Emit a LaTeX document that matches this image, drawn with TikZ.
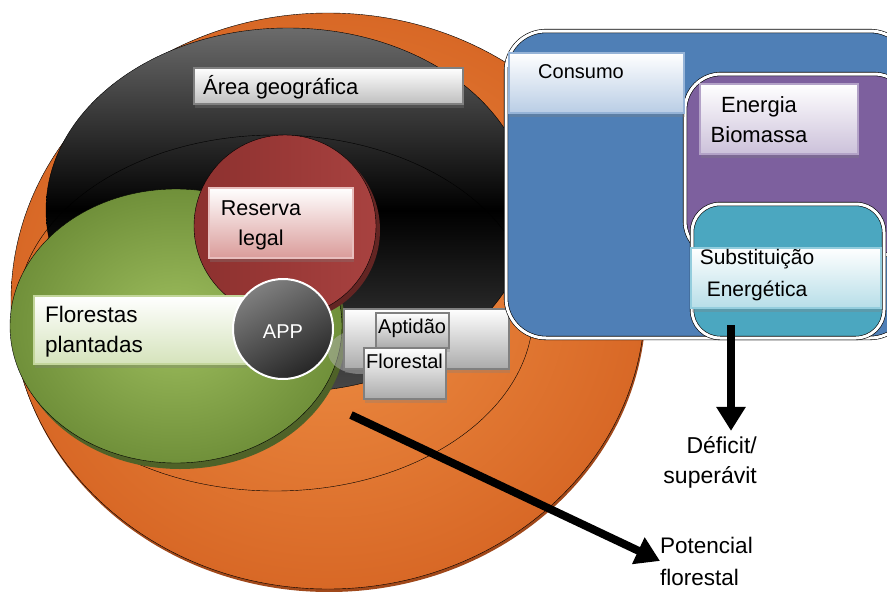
\documentclass[tikz,border=0pt]{standalone}
\usepackage{fontspec}
\setmainfont{Liberation Sans}
\usetikzlibrary{positioning,arrows.meta,shadows}

\definecolor{orangeD}{RGB}{216,104,38}
\definecolor{orangeL}{RGB}{238,142,68}
\definecolor{orangeS}{RGB}{160,72,26}
\definecolor{greenD}{RGB}{112,144,58}
\definecolor{greenL}{RGB}{158,190,94}
\definecolor{greenS}{RGB}{79,98,40}
\definecolor{redD}{RGB}{140,48,46}
\definecolor{redL}{RGB}{168,66,64}
\definecolor{redS}{RGB}{99,37,35}
\definecolor{blueP}{RGB}{79,127,182}
\definecolor{purpleP}{RGB}{125,96,158}
\definecolor{tealP}{RGB}{75,167,192}
\definecolor{pinkB}{RGB}{218,156,154}
\definecolor{pinkE}{RGB}{232,190,189}
\definecolor{leafB}{RGB}{213,227,187}
\definecolor{leafE}{RGB}{195,214,155}
\definecolor{skyB}{RGB}{185,205,229}
\definecolor{skyE}{RGB}{149,179,215}
\definecolor{lilacB}{RGB}{204,193,218}
\definecolor{lilacE}{RGB}{179,162,199}
\definecolor{aquaB}{RGB}{183,222,232}
\definecolor{aquaE}{RGB}{147,205,221}

\begin{document}
\begin{tikzpicture}[x=1pt,y=-1pt,
    tag box/.style={rectangle,anchor=north west,inner sep=0pt,line width=1.5pt,top color=white,
      drop shadow={shadow xshift=1pt,shadow yshift=-4pt,opacity=.3}},
    tag text/.style={font=\fontsize{#1}{30}\selectfont,inner sep=0pt},
    tag text/.default=22,
    panel/.style={draw=black,line width=.6pt,double=white,double distance=3pt},
    flow arrow/.style={line width=8pt,-{Triangle[width=28pt,length=24pt]}}]
  \useasboundingbox (0,0) rectangle (887,592);
  \clip (0,0) rectangle (887,592);

  % nested areas
  \fill[orangeS] (329,304) ellipse [x radius=317,y radius=288];
  \draw[inner color=orangeL,outer color=orangeD] (328,301) ellipse [x radius=317,y radius=288];
  \draw[top color=black!58,bottom color=black!72,middle color=black] (288,210) ellipse [x radius=242,y radius=182];
  \draw[thin] (275,313) ellipse [x radius=258,y radius=178];
  \fill[greenS] (180,332) ellipse [x radius=166,y radius=137];
  \draw[inner color=greenL,outer color=greenD] (176,326) ellipse [x radius=166,y radius=137];
  \fill[redS] (289,230) circle (91);
  \draw[left color=redD,right color=redL] (285,226) circle (91);

  \node[tag box,draw=pinkE,bottom color=pinkB,minimum width=144pt,minimum height=70pt] (1) at (208,187) {};
  \node[tag box,draw=leafE,bottom color=leafB,minimum width=212pt,minimum height=68pt] (2) at (33,295) {};
  \fill[gray!60,opacity=.5] (360,352) ellipse [x radius=32,y radius=22];
  \node[circle,draw=white,line width=2pt,minimum size=100pt,top color=black!50,bottom color=black!85,shading angle=30] (3) at (283,329) {};
  \node[tag box,draw=black!50,bottom color=black!33,minimum width=165pt,minimum height=60pt] (4) at (343,308) {};
  \node[tag box,draw=black!50,bottom color=black!33,minimum width=73pt,minimum height=35pt] (5) at (375,312) {};
  \node[tag box,draw=black!50,bottom color=black!33,minimum width=82pt,minimum height=51pt] (6) at (363,347) {};
  \node[tag box,draw=black!50,bottom color=black!25,minimum width=269pt,minimum height=36pt] (7) at (193,67) {};

  % consumption side
  \draw[panel,fill=blueP,rounded corners=40pt] (506,31) rectangle (910,338);
  \draw[panel,fill=purpleP,rounded corners=36pt] (685,74) rectangle (910,257);
  \draw[panel,fill=tealP,rounded corners=28pt] (692,204) rectangle (884,338);
  \node[tag box,draw=skyE,bottom color=skyB,minimum width=175pt,minimum height=60pt] (8) at (508,52) {};
  \node[tag box,draw=lilacE,bottom color=lilacB,minimum width=158pt,minimum height=70pt] (9) at (699,83) {};
  \node[tag box,draw=aquaE,bottom color=aquaB,minimum width=190pt,minimum height=60pt] (10) at (690,247) {};

  % labels
  \node[tag text,anchor=base west] (11) at (203,94) {Área geográfica};
  \node[tag text=21.5,anchor=base,align=center] (12) at (261,245) {Reserva\\legal};
  \node[tag text=22.5,anchor=base west,align=left] (13) at (45,352) {Florestas\\plantadas};
  \node[tag text=20,anchor=base,text=white] (14) at (283,338) {APP};
  \node[tag text=20,anchor=base west] (15) at (378,333) {Aptidão};
  \node[tag text=20,anchor=base west] (16) at (366,368) {Florestal};
  \node[tag text=20,anchor=base west] (17) at (538,78) {Consumo};
  \node[tag text,anchor=base,align=center] (18) at (759,142) {Energia\\Biomassa};
  \node[tag text=21,anchor=base,align=center,font=\fontsize{21}{32}\selectfont] (19) at (757,296) {Substituição\\Energética};
  \node[tag text=23,anchor=base east,align=right] (20) at (757,483) {Déficit/\\superávit};
  \node[tag text=22.5,anchor=base west,align=left,font=\fontsize{22.5}{32}\selectfont] (21) at (660,585) {Potencial\\florestal};

  % flows
  \coordinate (a) at (731,325);
  \coordinate (b) at (351,415);
  \draw[flow arrow,shorten >=5pt] (a) -- (a |- 20.north);
  \draw[flow arrow] (b) -- (21.west);
\end{tikzpicture}
\end{document}
